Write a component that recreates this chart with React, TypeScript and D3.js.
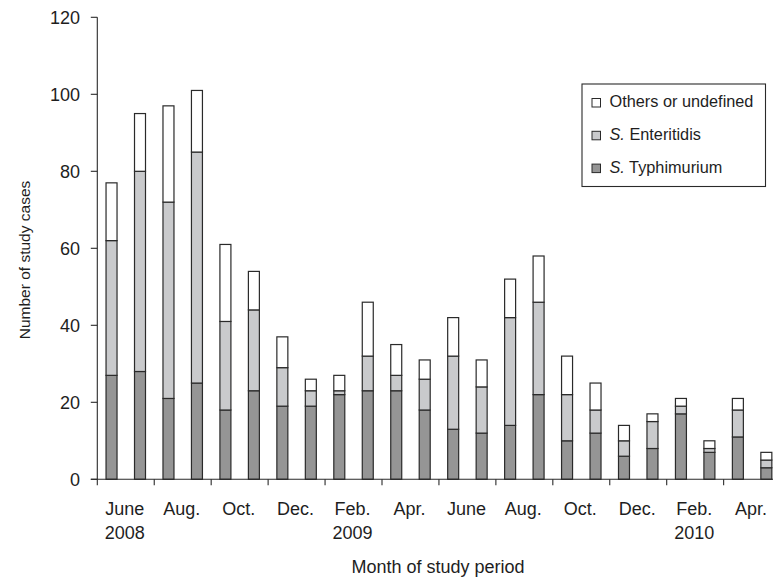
import React from "react";
import * as d3 from "d3";

const months = [
  "2008-06", "2008-07", "2008-08", "2008-09", "2008-10", "2008-11", "2008-12",
  "2009-01", "2009-02", "2009-03", "2009-04", "2009-05", "2009-06", "2009-07",
  "2009-08", "2009-09", "2009-10", "2009-11", "2009-12", "2010-01", "2010-02",
  "2010-03", "2010-04", "2010-05",
];
const typhimurium = [27, 28, 21, 25, 18, 23, 19, 19, 22, 23, 23, 18, 13, 12, 14, 22, 10, 12, 6, 8, 17, 7, 11, 3];
const enteritidis = [35, 52, 51, 60, 23, 21, 10, 4, 1, 9, 4, 8, 19, 12, 28, 24, 12, 6, 4, 7, 2, 1, 7, 2];
const others = [15, 15, 25, 16, 20, 10, 8, 3, 4, 14, 8, 5, 10, 7, 10, 12, 10, 7, 4, 2, 2, 2, 3, 2];

const tickMonths = ["June", "Aug.", "Oct.", "Dec.", "Feb.", "Apr.", "June", "Aug.", "Oct.", "Dec.", "Feb.", "Apr."];
const tickYears = ["2008", "", "", "", "2009", "", "", "", "", "", "2010", ""];
const yTicks = [0, 20, 40, 60, 80, 100, 120];

const seriesKeys = ["typhimurium", "enteritidis", "others"];
const seriesColors = ["#959595", "#c9cacc", "#ffffff"];
const legendItems = [
  { key: "others", italic: "", rest: "Others or undefined" },
  { key: "enteritidis", italic: "S.", rest: " Enteritidis" },
  { key: "typhimurium", italic: "S.", rest: " Typhimurium" },
];

const W = 773;
const H = 579;
const X0 = 97.3;
const STEP = 28.47;
const Y0 = 479.3;
const YTOP = 17.3;
const FONT = "'Liberation Sans', Arial, Helvetica, sans-serif";
const TEXT = "#1e1e1e";
const STROKE = "#2a2a2a";

export default function App() {
  const rows = months.map((m, i) => ({
    month: m,
    typhimurium: typhimurium[i],
    enteritidis: enteritidis[i],
    others: others[i],
  }));

  const x = d3
    .scaleBand<string>()
    .domain(months)
    .range([X0, X0 + STEP * months.length])
    .paddingInner(0.614)
    .paddingOuter(0.307);

  const y = d3.scaleLinear().domain([0, 120]).range([Y0, YTOP]);

  const stack = d3.stack<any>().keys(seriesKeys);
  const layers = stack(rows);
  const color = d3.scaleOrdinal<string, string>().domain(seriesKeys).range(seriesColors);

  const band2 = d3
    .scaleBand<number>()
    .domain(d3.range(tickMonths.length))
    .range([X0, X0 + STEP * 2 * tickMonths.length]);

  const tickXs = d3.range(tickMonths.length + 1).map((k) => X0 + k * band2.step());

  return (
    <>
      <style>{`body{margin:0;} svg{display:block;}`}</style>
      <svg width={W} height={H} viewBox={`0 0 ${W} ${H}`} style={{ background: "#fff" }}>
        {/* bars */}
        {layers.map((layer) => (
          <g key={layer.key} fill={color(layer.key)}>
            {layer.map((d, i) => (
              <rect
                key={i}
                x={x(months[i])}
                y={y(d[1])}
                width={x.bandwidth()}
                height={y(d[0]) - y(d[1])}
                stroke={STROKE}
                strokeWidth={1.2}
              />
            ))}
          </g>
        ))}

        {/* y axis */}
        <line x1={X0} x2={X0} y1={YTOP} y2={Y0} stroke={STROKE} strokeWidth={1.1} />
        {yTicks.map((t) => (
          <g key={t}>
            <line x1={X0 - 6.5} x2={X0} y1={y(t)} y2={y(t)} stroke={STROKE} strokeWidth={1.1} />
            <text
              x={80}
              y={y(t)}
              dy="0.36em"
              textAnchor="end"
              fontFamily={FONT}
              fontSize={18}
              fill={TEXT}
            >
              {t}
            </text>
          </g>
        ))}

        {/* x axis */}
        <line x1={X0 - 6.5} x2={W + 10} y1={Y0} y2={Y0} stroke={STROKE} strokeWidth={1.1} />
        {tickXs.map((tx, k) => (
          <line key={k} x1={tx} x2={tx} y1={Y0} y2={Y0 + 6} stroke={STROKE} strokeWidth={1.1} />
        ))}
        {tickMonths.map((m, k) => {
          const cx = (band2(k) as number) + band2.bandwidth() / 2 - 1;
          return (
            <g key={k} fontFamily={FONT} fontSize={18} fill={TEXT} textAnchor="middle">
              <text x={cx} y={515}>{m}</text>
              {tickYears[k] && <text x={cx} y={538.5}>{tickYears[k]}</text>}
            </g>
          );
        })}

        {/* axis titles */}
        <text
          x={438}
          y={573}
          textAnchor="middle"
          fontFamily={FONT}
          fontSize={18}
          fill={TEXT}
        >
          Month of study period
        </text>
        <text
          transform={`translate(29.5,260) rotate(-90)`}
          textAnchor="middle"
          fontFamily={FONT}
          fontSize={15.5}
          fill={TEXT}
        >
          Number of study cases
        </text>

        {/* legend */}
        <rect x={582} y={84} width={183.5} height={102.5} fill="#fff" stroke={STROKE} strokeWidth={1.1} />
        {legendItems.map((it, i) => {
          const base = 107 + i * 32.8;
          return (
            <g key={it.key}>
              <rect
                x={592}
                y={base - 8.5}
                width={8.5}
                height={8.5}
                fill={color(it.key)}
                stroke={STROKE}
                strokeWidth={1}
              />
              <text x={609.5} y={base} fontFamily={FONT} fontSize={16.3} fill={TEXT}>
                {it.italic && <tspan fontStyle="italic">{it.italic}</tspan>}
                {it.rest}
              </text>
            </g>
          );
        })}
      </svg>
    </>
  );
}
